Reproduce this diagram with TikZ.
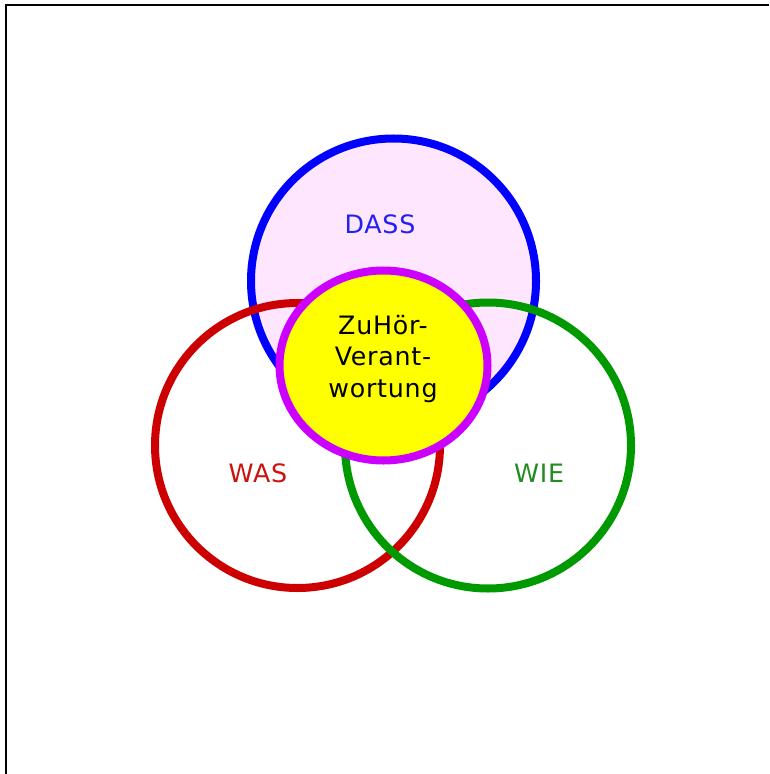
\documentclass[tikz,border=0pt]{standalone}
\usepackage{fontspec}
\setmainfont{DejaVu Sans}[LetterSpace=3]
\usetikzlibrary{shapes.geometric}
\definecolor{dassblue}{HTML}{0000FF}
\definecolor{dassfill}{HTML}{FFE6FF}
\definecolor{wasred}{HTML}{CC0000}
\definecolor{wiegreen}{HTML}{009900}
\definecolor{coreviolet}{HTML}{CC00FF}
\definecolor{coreyellow}{HTML}{FFFF00}
\definecolor{dasstext}{HTML}{2222EE}
\definecolor{wastext}{HTML}{CC1111}
\definecolor{wietext}{HTML}{228B22}
\begin{document}
\begin{tikzpicture}[x=0.025cm, y=-0.025cm, line width=0.2cm,
    every node/.style={font=\fontsize{18}{22.3}\selectfont, inner sep=0pt}]
  % Page (769 x 774 px), frame runs off the right and bottom edge
  \useasboundingbox (0,0) rectangle (769,774);
  \draw[black, line width=0.05cm] (6.3,774) -- (6.3,5.2) -- (769,5.2);
  % DASS circle (filled), then WAS and WIE rings on top of it
  \draw[dassblue, fill=dassfill] (393.5,281) circle (142.5);
  \draw[wasred] (297.5,445.5) circle (142.5);
  \draw[wiegreen] (488,445.5) circle (143);
  % Core: ZuHoer-Verantwortung
  \draw[coreviolet, fill=coreyellow] (383.5,365.5) ellipse (104 and 95);
  % Labels
  \node[text=dasstext] (dass) at (380,224) {DASS};
  \node[text=wastext] (was) at (258,473) {WAS};
  \node[text=wietext] (wie) at (539,473) {WIE};
  \node[align=center] (core) at (383,359) {ZuHör-\\Verant-\\wortung};
\end{tikzpicture}
\end{document}
